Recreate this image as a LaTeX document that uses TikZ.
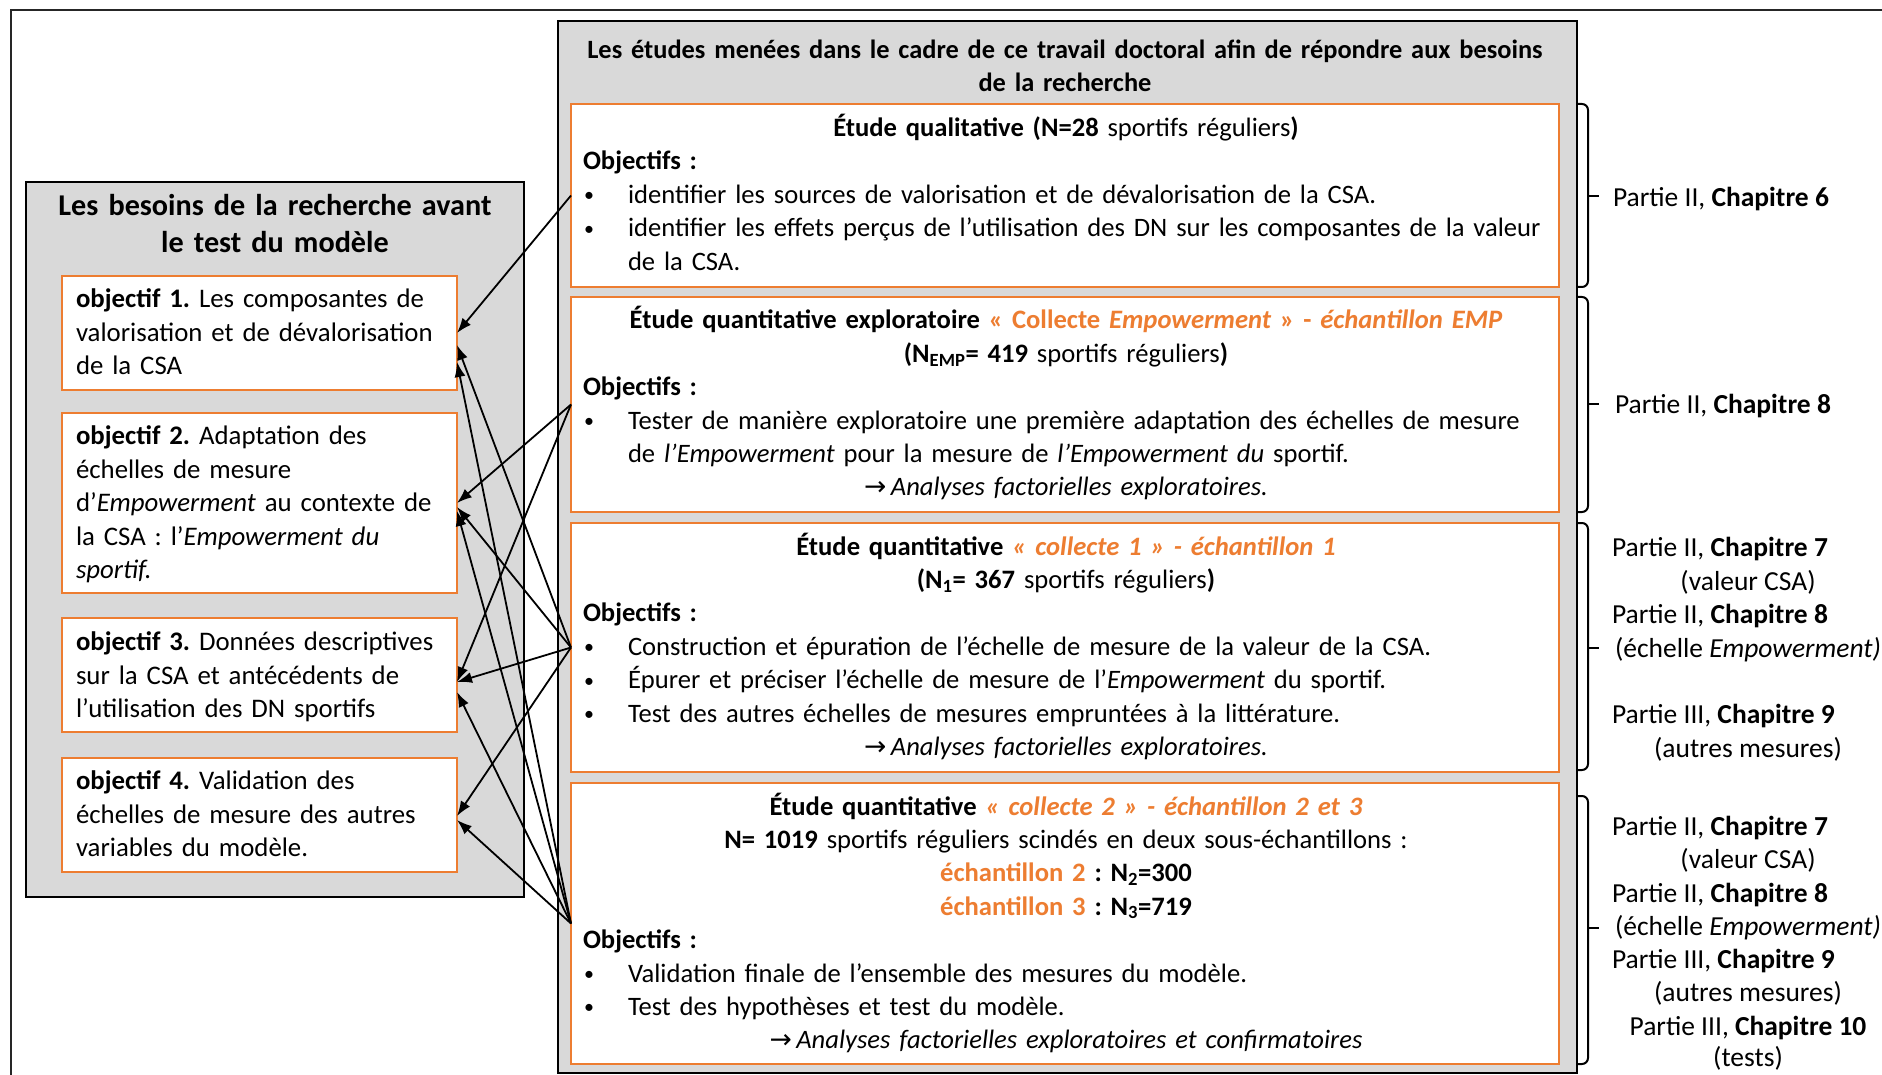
\documentclass[tikz,border=0pt]{standalone}
\usepackage{fontspec}
\usepackage{graphicx}
\setmainfont{Carlito}
\newfontfamily\symfont{DejaVu Sans}
\usetikzlibrary{arrows.meta,calc}
\definecolor{orng}{HTML}{ED7D31}
\definecolor{grayfill}{HTML}{D9D9D9}
\newcommand{\bul}{\makebox[45pt][l]{\hspace{1pt}\raisebox{1.5pt}{\scalebox{0.75}{\textbullet}}}}
\newcommand{\arr}{{\symfont →}}
\newcommand{\hang}{\hangindent=45pt\hangafter=1 }
\frenchspacing
\begin{document}
\begin{tikzpicture}[x=1pt,y=-1pt,
  every node/.style={inner sep=0pt, outer sep=0pt},
  graybox/.style={draw=black, line width=2.5pt, fill=grayfill, rectangle, anchor=north west},
  obox/.style={draw=orng, line width=2.6pt, fill=white, rectangle, anchor=north west},
  txt/.style={anchor=base west, text width=#1, font=\frenchspacing\fontsize{26.6}{33.4}\selectfont},
  ltxt/.style={anchor=base west, text width=#1, font=\frenchspacing\fontsize{26.8}{33.6}\selectfont},
  link/.style={line width=1.8pt, -{Latex[length=15pt,width=11pt]}},
  brace/.style={line width=2pt, rounded corners=6pt},
  lbl/.style={anchor=base west, font=\fontsize{27.5}{33.4}\selectfont},
  lblc/.style={anchor=base, font=\fontsize{27.5}{33.4}\selectfont},
]
\useasboundingbox (0,0) rectangle (1882,1075);
\clip (0,0) rectangle (1882,1075);
\fill[white] (0,0) rectangle (1882,1075);
% outer frame
\draw[line width=2.2pt, black!85] (11,10) rectangle (1920,1110);

% left gray box
\node[graybox, minimum width=498pt, minimum height=715pt] (lbox) at (26,182) {};
\node[anchor=base, text width=480pt, font=\fontsize{30.2}{37.5}\selectfont\bfseries] (ltitle) at (275,215.5)
 {{\centering Les besoins de la recherche avant\\le test du modèle\par}};

% objective boxes
\node[obox, minimum width=395pt, minimum height=114pt] (o1) at (62,276) {};
\node[obox, minimum width=395pt, minimum height=180pt] (o2) at (62,413) {};
\node[obox, minimum width=395pt, minimum height=114pt] (o3) at (62,618) {};
\node[obox, minimum width=395pt, minimum height=114pt] (o4) at (62,758) {};

\node[ltxt=375pt] (o1t) at (76,307.5) {\raggedright\textbf{objectif 1.} Les composantes de\\valorisation et de dévalorisation\\de la CSA};
\node[ltxt=375pt] (o2t) at (76,444.5) {\raggedright\textbf{objectif 2.} Adaptation des\\échelles de mesure\\d’\textit{Empowerment} au contexte de\\la CSA : l’\textit{Empowerment du}\\\textit{sportif.}};
\node[ltxt=375pt] (o3t) at (76,650.5) {\raggedright\textbf{objectif 3.} Données descriptives\\sur la CSA et antécédents de\\l’utilisation des DN sportifs};
\node[ltxt=375pt] (o4t) at (76,789.5) {\raggedright\textbf{objectif 4.} Validation des\\échelles de mesure des autres\\variables du modèle.};

% right gray box
\node[graybox, minimum width=1019pt, minimum height=1052pt] (rbox) at (558,21) {};
\node[anchor=base, text width=1000pt, font=\fontsize{26.4}{33}\selectfont\bfseries] (rtitle) at (1065,59)
 {{\centering Les études menées dans le cadre de ce travail doctoral afin de répondre aux besoins\\de la recherche\par}};

% study boxes
\node[obox, minimum width=988pt, minimum height=183pt] (s1) at (571,104) {};
\node[obox, minimum width=988pt, minimum height=215pt] (s2) at (571,297) {};
\node[obox, minimum width=988pt, minimum height=249pt] (s3) at (571,523) {};
\node[obox, minimum width=988pt, minimum height=281pt] (s4) at (571,783) {};

\node[txt=966pt] (s1t) at (583,136.5) {\raggedright
{\centering\textbf{Étude qualitative (N=28} sportifs réguliers\textbf{)}\par}
\textbf{Objectifs :}\par
\hang\bul identifier les sources de valorisation et de dévalorisation de la CSA.\par
\hang\bul identifier les effets perçus de l’utilisation des DN sur les composantes de la valeur\newline de la CSA.\par};

\node[txt=966pt] (s2t) at (583,329) {\raggedright
{\centering\textbf{Étude quantitative exploratoire} \textcolor{orng}{\textbf{« Collecte \textit{Empowerment} » - \textit{échantillon EMP}}}\par}
{\centering\textbf{(N\textsubscript{EMP}= 419} sportifs réguliers\textbf{)}\par}
\textbf{Objectifs :}\par
\hang\bul Tester de manière exploratoire une première adaptation des échelles de mesure\newline de \textit{l’Empowerment} pour la mesure de \textit{l’Empowerment du} sportif.\par
{\centering\arr\,\textit{Analyses factorielles exploratoires.}\par}};

\node[txt=966pt] (s3t) at (583,555) {\raggedright
{\centering\textbf{Étude quantitative} \textcolor{orng}{\textbf{\textit{« collecte 1 » - échantillon 1}}}\par}
{\centering\textbf{(N\textsubscript{1}= 367} sportifs réguliers\textbf{)}\par}
\textbf{Objectifs :}\par
\hang\bul Construction et épuration de l’échelle de mesure de la valeur de la CSA.\par
\hang\bul Épurer et préciser l’échelle de mesure de l’\textit{Empowerment} du sportif.\par
\hang\bul Test des autres échelles de mesures empruntées à la littérature.\par
{\centering\arr\,\textit{Analyses factorielles exploratoires.}\par}};

\node[txt=966pt] (s4t) at (583,815) {\raggedright
{\centering\textbf{Étude quantitative} \textcolor{orng}{\textbf{\textit{« collecte 2 » - échantillon 2 et 3}}}\par}
{\centering\textbf{N= 1019} sportifs réguliers scindés en deux sous-échantillons :\par}
{\centering\textcolor{orng}{\textbf{échantillon 2}} \textbf{: N\textsubscript{2}=300}\par}
{\centering\textcolor{orng}{\textbf{échantillon 3}} \textbf{: N\textsubscript{3}=719}\par}
\textbf{Objectifs :}\par
\hang\bul Validation finale de l’ensemble des mesures du modèle.\par
\hang\bul Test des hypothèses et test du modèle.\par
{\centering\arr\,\textit{Analyses factorielles exploratoires et confirmatoires}\par}};

% braces
\draw[brace] (1577,104) -- (1588,104) -- (1588,287) -- (1577,287);
\draw[line width=2pt] (1588,196) -- (1599,196);
\draw[brace] (1577,297) -- (1588,297) -- (1588,512) -- (1577,512);
\draw[line width=2pt] (1588,404) -- (1599,404);
\draw[brace] (1577,523) -- (1588,523) -- (1588,770) -- (1577,770);
\draw[line width=2pt] (1588,648) -- (1599,648);
\draw[brace] (1577,796) -- (1588,796) -- (1588,1064) -- (1577,1064);
\draw[line width=2pt] (1588,928) -- (1599,928);

% labels
\node[lbl] (c6) at (1613,207) {Partie II, \textbf{Chapitre 6}};
\node[lbl] (c8a) at (1615,413) {Partie II, \textbf{Chapitre 8}};
\node[lbl] (c7b) at (1612,556) {Partie II, \textbf{Chapitre 7}};
\node[lblc] (v7b) at (1748,590) {(valeur CSA)};
\node[lbl] (c8b) at (1612,623) {Partie II, \textbf{Chapitre 8}};
\node[lblc] (v8b) at (1748,657) {(échelle \textit{Empowerment)}};
\node[lbl] (c9b) at (1612,723) {Partie III, \textbf{Chapitre 9}};
\node[lblc] (v9b) at (1748,757) {(autres mesures)};
\node[lbl] (c7c) at (1612,835) {Partie II, \textbf{Chapitre 7}};
\node[lblc] (v7c) at (1748,868) {(valeur CSA)};
\node[lbl] (c8c) at (1612,902) {Partie II, \textbf{Chapitre 8}};
\node[lblc] (v8c) at (1748,935) {(échelle \textit{Empowerment)}};
\node[lbl] (c9c) at (1612,968) {Partie III, \textbf{Chapitre 9}};
\node[lblc] (v9c) at (1748,1001) {(autres mesures)};
\node[lblc] (c10c) at (1748,1035) {Partie III, \textbf{Chapitre 10}};
\node[lblc] (v10c) at (1748,1066) {(tests)};

% connectors
\draw[link] (s1.west) -- (o1.east);
\draw[link] (s3.west) -- ([yshift=-12pt]o1.east);
\draw[link] (s4.west) -- ([yshift=-29pt]o1.east);
\draw[link] (s2.west) -- (o2.east);
\draw[link] (s3.west) -- ([yshift=-4pt]o2.east);
\draw[link] (s4.west) -- ([yshift=-8pt]o2.east);
\draw[link] (s2.west) -- ([yshift=-7pt]o3.east);
\draw[link] (s3.west) -- ([yshift=-7pt]o3.east);
\draw[link] (s4.west) -- ([yshift=-17pt]o3.east);
\draw[link] (s3.west) -- ([yshift=-1pt]o4.east);
\draw[link] (s4.west) -- ([yshift=-5pt]o4.east);
\end{tikzpicture}
\end{document}
